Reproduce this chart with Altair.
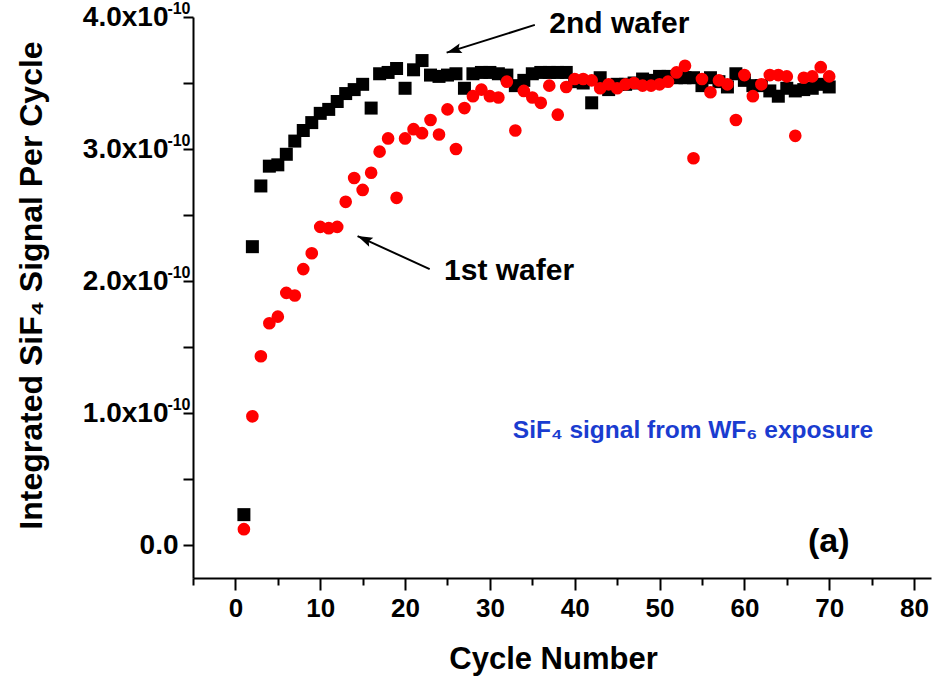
import altair as alt
import pandas as pd

# ---------------- data (signal in units of 1e-10) ----------------
cycles = list(range(1, 71))

wafer2_e10 = [0.23, 2.26, 2.72, 2.87, 2.88, 2.96, 3.06, 3.14, 3.20, 3.27,
              3.30, 3.36, 3.42, 3.45, 3.49, 3.31, 3.57, 3.58, 3.61, 3.46,
              3.60, 3.67, 3.56, 3.55, 3.56, 3.57, 3.46, 3.57, 3.58, 3.58,
              3.57, 3.56, 3.48, 3.52, 3.57, 3.58, 3.58, 3.58, 3.58, 3.51,
              3.50, 3.35, 3.54, 3.45, 3.49, 3.49, 3.50, 3.53, 3.52, 3.55,
              3.55, 3.54, 3.54, 3.54, 3.48, 3.54, 3.51, 3.47, 3.57, 3.52,
              3.48, 3.48, 3.44, 3.40, 3.46, 3.44, 3.45, 3.46, 3.49, 3.47]

wafer1_e10 = [0.12, 0.975, 1.43, 1.68, 1.73, 1.91, 1.89, 2.09, 2.21, 2.41,
              2.40, 2.41, 2.60, 2.78, 2.69, 2.82, 2.98, 3.08, 2.63, 3.08,
              3.15, 3.12, 3.22, 3.11, 3.30, 3.00, 3.31, 3.40, 3.45, 3.40,
              3.39, 3.51, 3.14, 3.44, 3.39, 3.35, 3.48, 3.26, 3.47, 3.53,
              3.53, 3.52, 3.46, 3.49, 3.46, 3.49, 3.50, 3.48, 3.48, 3.49,
              3.51, 3.58, 3.63, 2.93, 3.53, 3.43, 3.52, 3.49, 3.22, 3.56,
              3.40, 3.49, 3.56, 3.56, 3.55, 3.10, 3.54, 3.55, 3.62, 3.55]

x_major_ticks = list(range(0, 81, 10))
x_minor_ticks = list(range(-5, 81, 10))
y_ticks_e10 = [0.0, 0.5, 1.0, 1.5, 2.0, 2.5, 3.0, 3.5, 4.0]
y_zero_label_e10 = [0.0]
y_exp_labels_e10 = [1.0, 2.0, 3.0, 4.0]
y_exponent_text = "-10"

# annotations
wafer_labels = ["2nd wafer", "1st wafer"]
wafer_label_x = [37.0, 24.6]
wafer_label_y_e10 = [3.88, 2.005]
arrow_x = [35.3, 22.9]
arrow_y_e10 = [3.94, 2.09]
arrow_x2 = [24.9, 14.4]
arrow_y2_e10 = [3.73, 2.34]
arrow_angle = [253, 294.6]
note_text = ["SiF\u2084 signal from WF\u2086 exposure"]
note_x = [32.7]
note_y_e10 = [0.81]
panel_text = ["(a)"]
panel_x = [67.5]
panel_y_e10 = [-0.05]

E = 1e-10
df2 = pd.DataFrame({"cycle": cycles, "signal": [v * E for v in wafer2_e10]})
df1 = pd.DataFrame({"cycle": cycles, "signal": [v * E for v in wafer1_e10]})
lab_df = pd.DataFrame({"x": wafer_label_x, "y": [v * E for v in wafer_label_y_e10], "text": wafer_labels})
arr_df = pd.DataFrame({"x": arrow_x, "y": [v * E for v in arrow_y_e10],
                       "x2": arrow_x2, "y2": [v * E for v in arrow_y2_e10], "angle": arrow_angle})
note_df = pd.DataFrame({"x": note_x, "y": [v * E for v in note_y_e10], "text": note_text})
panel_df = pd.DataFrame({"x": panel_x, "y": [v * E for v in panel_y_e10], "text": panel_text})

FONT = "Liberation Sans"
x_scale = alt.Scale(domain=[-5, 82], nice=False, zero=False)
y_scale = alt.Scale(domain=[-0.25e-10, 4.0e-10], nice=False, zero=False)

x_axis = alt.Axis(
    title="Cycle Number", orient="bottom",
    values=x_major_ticks, format="d",
    tickSize=12, tickWidth=2, tickColor="black",
    domainWidth=2, domainColor="black",
    labelFont=FONT, labelFontSize=26, labelFontWeight="bold", labelColor="black",
    labelPadding=5, labelFlush=False, labelOverlap=False, labelBaseline="top",
    titleFont=FONT, titleFontSize=31, titleFontWeight="bold", titleColor="black",
    titleX=360, titleY=90, titleBaseline="alphabetic", titleAlign="center",
    grid=False,
)

x_minor_axis = alt.Axis(
    title=None, orient="bottom", values=x_minor_ticks,
    tickSize=7, tickWidth=2, tickColor="black",
    domain=False, labels=False, grid=False,
)

y_main_axis = alt.Axis(
    title="Integrated SiF\u2084 Signal Per Cycle", orient="left",
    values=[v * E for v in y_ticks_e10],
    tickSize=10, tickWidth=2, tickColor="black",
    domainWidth=2, domainColor="black",
    labels=False, grid=False,
    titleFont=FONT, titleFontSize=32, titleFontWeight="bold", titleColor="black",
    titleX=-152, titleY=268, titleAngle=270, titleBaseline="alphabetic", titleAlign="center",
)

y_zero_axis = alt.Axis(
    title=None, orient="left",
    values=[v * E for v in y_zero_label_e10],
    labelExpr="'0.0'",
    tickSize=10, tickOpacity=0, domain=False, grid=False,
    labelFont=FONT, labelFontSize=28, labelFontWeight="bold", labelColor="black",
    labelPadding=5, labelFlush=False, labelOverlap=False, labelAlign="right", labelBaseline="middle",
)

y_mant_axis = alt.Axis(
    title=None, orient="left",
    values=[v * E for v in y_exp_labels_e10],
    labelExpr="format(datum.value * 10000000000, '.1f') + 'x10'",
    tickSize=10, tickOpacity=0, domain=False, grid=False,
    labelFont=FONT, labelFontSize=28, labelFontWeight="bold", labelColor="black",
    labelPadding=15, labelFlush=False, labelOverlap=False, labelAlign="right", labelBaseline="middle",
)

y_pow_axis = alt.Axis(
    title=None, orient="left",
    values=[v * E for v in y_exp_labels_e10],
    labelExpr="'" + y_exponent_text + "'",
    tickSize=10, tickOpacity=0, domain=False, grid=False,
    labelFont=FONT, labelFontSize=16, labelFontWeight="bold", labelColor="black",
    labelPadding=-7, labelOffset=-9, labelFlush=False, labelOverlap=False,
    labelAlign="right", labelBaseline="middle",
)

black_pts = alt.Chart(df2).mark_point(shape="square", filled=True, size=169, color="black", opacity=1).encode(
    x=alt.X("cycle:Q", scale=x_scale, axis=x_axis),
    y=alt.Y("signal:Q", scale=y_scale, axis=y_main_axis),
)

minor_layer = alt.Chart(df2).mark_point(opacity=0).encode(
    x=alt.X("cycle:Q", scale=x_scale, axis=x_minor_axis),
    y=alt.Y("signal:Q", scale=y_scale, axis=y_zero_axis),
)

pow_layer = alt.Chart(df2).mark_point(opacity=0).encode(
    x=alt.X("cycle:Q", scale=x_scale, axis=None),
    y=alt.Y("signal:Q", scale=y_scale, axis=y_pow_axis),
)

red_pts = alt.Chart(df1).mark_point(shape="circle", filled=True, size=160, color="#ff0000", opacity=1).encode(
    x=alt.X("cycle:Q", scale=x_scale, axis=None),
    y=alt.Y("signal:Q", scale=y_scale, axis=y_mant_axis),
)

arrow_lines = alt.Chart(arr_df).mark_rule(color="black", strokeWidth=2).encode(
    x=alt.X("x:Q", scale=x_scale, axis=None),
    y=alt.Y("y:Q", scale=y_scale, axis=None),
    x2="x2:Q", y2="y2:Q",
)

arrow_heads = alt.Chart(arr_df).mark_point(
    shape="M0,0 L0.33,1 L0,0.82 L-0.33,1 Z", filled=True, size=900, color="black", opacity=1
).encode(
    x=alt.X("x2:Q", scale=x_scale, axis=None),
    y=alt.Y("y2:Q", scale=y_scale, axis=None),
    angle=alt.Angle("angle:Q", scale=None),
)

wafer_text = alt.Chart(lab_df).mark_text(
    font=FONT, fontSize=30, fontWeight="bold", color="black", align="left", baseline="alphabetic"
).encode(
    x=alt.X("x:Q", scale=x_scale, axis=None),
    y=alt.Y("y:Q", scale=y_scale, axis=None),
    text="text:N",
)

note = alt.Chart(note_df).mark_text(
    font=FONT, fontSize=24.5, fontWeight="bold", color="#1a3cd0", align="left", baseline="alphabetic"
).encode(
    x=alt.X("x:Q", scale=x_scale, axis=None),
    y=alt.Y("y:Q", scale=y_scale, axis=None),
    text="text:N",
)

panel = alt.Chart(panel_df).mark_text(
    font=FONT, fontSize=34, fontWeight="bold", color="black", align="left", baseline="alphabetic"
).encode(
    x=alt.X("x:Q", scale=x_scale, axis=None),
    y=alt.Y("y:Q", scale=y_scale, axis=None),
    text="text:N",
)

chart = alt.layer(black_pts, minor_layer, pow_layer, red_pts, arrow_lines, arrow_heads,
                  wafer_text, note, panel).resolve_axis(
    x="independent", y="independent"
).properties(
    width=738, height=561,
    autosize=alt.AutoSizeParams(type="none"),
    padding={"left": 193, "top": 17, "right": 4, "bottom": 102},
    background="white",
).configure_view(stroke=None)

chart.save("out.html", embed_options={"renderer": "svg", "actions": False})
